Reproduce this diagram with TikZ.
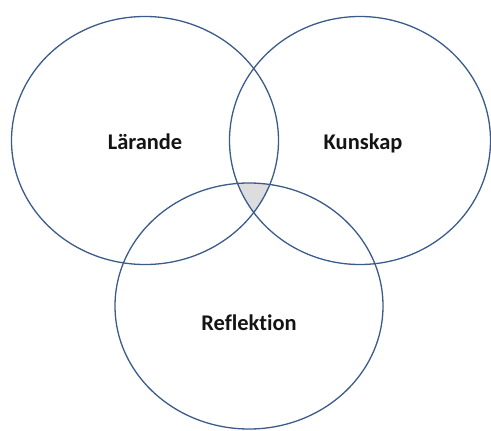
\documentclass[tikz,border=0pt]{standalone}
\usepackage{fontspec}
\setmainfont{Carlito}[Ligatures={NoCommon}]
\usetikzlibrary{positioning}
\definecolor{vline}{RGB}{59,92,138}
\definecolor{vshade}{RGB}{221,221,224}

\begin{document}
\begin{tikzpicture}[x=1bp, y=1bp,
  ring/.style={draw=vline, line width=1.3bp},
  lbl/.style={font=\fontsize{22.5}{26}\selectfont\bfseries, text=black!92, anchor=base}]
\useasboundingbox (0,0) rectangle (491,430);
% common part of the three circles
\begin{scope}
  \clip (145,289.5) ellipse (133.5 and 124);
  \clip (360,289.5) ellipse (130.5 and 124);
  \fill[vshade] (249,124) ellipse (134 and 123);
\end{scope}
\draw[ring] (145,289.5) ellipse (133.5 and 124);
\draw[ring] (360,289.5) ellipse (130.5 and 124);
\draw[ring] (249,124) ellipse (134 and 123);
\node[lbl] (laer) at (145,281) {Lärande};
\node[lbl] (kun)  at (363,281) {Kunskap};
\node[lbl] (refl) at (249,100) {Reflekt\kern0pt ion};
\end{tikzpicture}
\end{document}
